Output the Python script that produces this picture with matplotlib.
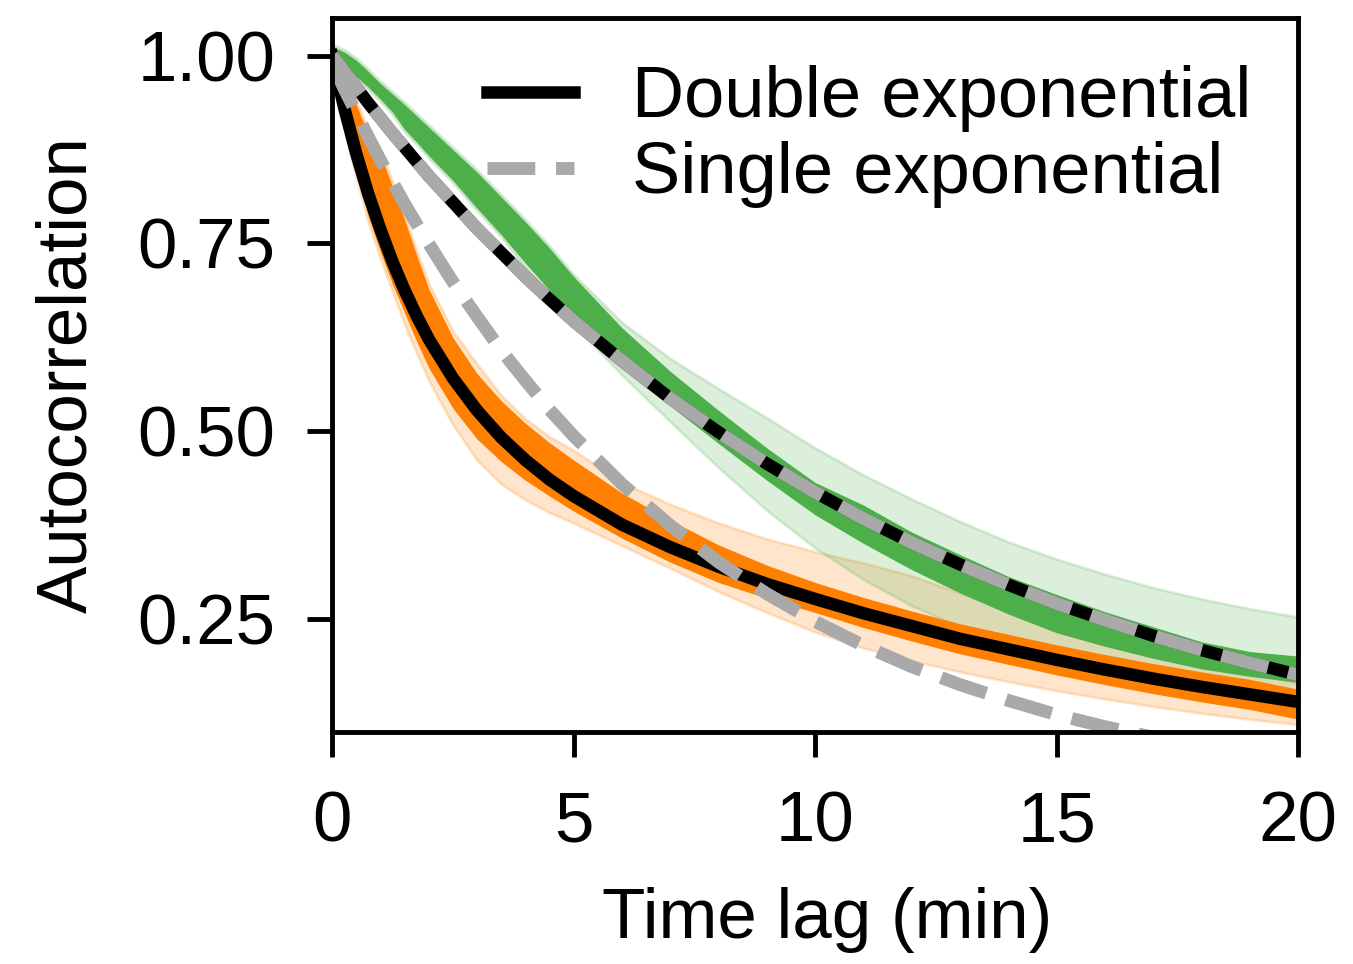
import numpy as np
import matplotlib
matplotlib.use("Agg")
import matplotlib.pyplot as plt

plt.rcParams['font.family'] = ['Liberation Sans', 'DejaVu Sans']

lag = [0, 0.25, 0.5, 0.75, 1, 1.25, 1.5, 1.75, 2, 2.5, 3, 3.5, 4, 4.5, 5,
       6, 7, 8, 9, 10, 11, 12, 13, 14, 15, 16, 17, 18, 19, 20]

# orange condition: mean +/- sem (solid band), +/- sd (light band), fits
orange_lo = [0.982, 0.911, 0.845, 0.786, 0.739, 0.696, 0.658, 0.620, 0.585, 0.531, 0.490, 0.460, 0.435, 0.414, 0.394,
             0.358, 0.326, 0.299, 0.278, 0.259, 0.239, 0.221, 0.204, 0.190, 0.176, 0.163, 0.151, 0.140, 0.130, 0.117]
orange_hi = [1.018, 0.971, 0.935, 0.896, 0.869, 0.826, 0.782, 0.735, 0.690, 0.625, 0.577, 0.541, 0.511, 0.485, 0.462,
             0.418, 0.382, 0.349, 0.322, 0.299, 0.279, 0.261, 0.244, 0.230, 0.216, 0.203, 0.191, 0.180, 0.170, 0.157]
orange_sd_lo = [0.982, 0.905, 0.838, 0.778, 0.730, 0.686, 0.643, 0.604, 0.568, 0.509, 0.462, 0.430, 0.409, 0.392, 0.378,
                0.348, 0.318, 0.287, 0.259, 0.233, 0.212, 0.195, 0.180, 0.167, 0.155, 0.144, 0.134, 0.125, 0.117, 0.110]
orange_sd_hi = [1.018, 0.975, 0.940, 0.902, 0.875, 0.832, 0.787, 0.741, 0.697, 0.634, 0.590, 0.548, 0.517, 0.493, 0.475,
                0.432, 0.403, 0.378, 0.357, 0.340, 0.325, 0.308, 0.285, 0.262, 0.242, 0.225, 0.210, 0.195, 0.180, 0.165]
orange_double = [1.000, 0.931, 0.870, 0.816, 0.769, 0.726, 0.688, 0.654, 0.623, 0.571, 0.528, 0.492, 0.462, 0.436, 0.414,
                 0.376, 0.346, 0.320, 0.297, 0.277, 0.258, 0.241, 0.224, 0.210, 0.196, 0.183, 0.171, 0.160, 0.150, 0.140]
orange_single = [0.990, 0.956, 0.924, 0.892, 0.861, 0.832, 0.803, 0.776, 0.750, 0.699, 0.653, 0.608, 0.568, 0.529, 0.494,
                 0.430, 0.375, 0.326, 0.284, 0.247, 0.215, 0.187, 0.163, 0.142, 0.123, 0.107, 0.093, 0.081, 0.071, 0.062]

# green condition
green_lo = [0.995, 0.990, 0.972, 0.958, 0.942, 0.925, 0.902, 0.885, 0.867, 0.834, 0.797, 0.762, 0.724, 0.688, 0.652,
            0.589, 0.534, 0.484, 0.435, 0.389, 0.351, 0.316, 0.285, 0.257, 0.232, 0.214, 0.198, 0.184, 0.174, 0.166]
green_hi = [1.012, 1.005, 0.994, 0.979, 0.963, 0.949, 0.935, 0.920, 0.905, 0.875, 0.845, 0.812, 0.779, 0.744, 0.706,
            0.638, 0.580, 0.528, 0.478, 0.432, 0.402, 0.366, 0.336, 0.307, 0.283, 0.260, 0.240, 0.220, 0.207, 0.201]
green_sd_lo = [0.992, 0.987, 0.969, 0.955, 0.939, 0.922, 0.899, 0.882, 0.864, 0.831, 0.794, 0.759, 0.718, 0.680, 0.643,
               0.575, 0.513, 0.452, 0.395, 0.345, 0.303, 0.268, 0.240, 0.215, 0.195, 0.177, 0.160, 0.145, 0.132, 0.120]
green_sd_hi = [1.015, 1.008, 0.997, 0.982, 0.966, 0.952, 0.938, 0.923, 0.908, 0.878, 0.848, 0.815, 0.782, 0.747, 0.709,
               0.645, 0.597, 0.557, 0.518, 0.478, 0.442, 0.410, 0.380, 0.353, 0.330, 0.310, 0.292, 0.277, 0.264, 0.253]
green_double = [1.000, 0.979, 0.958, 0.937, 0.917, 0.897, 0.878, 0.859, 0.840, 0.805, 0.770, 0.738, 0.706, 0.676, 0.647,
                0.594, 0.544, 0.499, 0.457, 0.419, 0.384, 0.352, 0.323, 0.296, 0.271, 0.249, 0.228, 0.209, 0.192, 0.176]
green_single = [1.000, 0.979, 0.958, 0.937, 0.917, 0.897, 0.878, 0.859, 0.840, 0.805, 0.770, 0.738, 0.706, 0.676, 0.647,
                0.594, 0.544, 0.499, 0.457, 0.419, 0.384, 0.352, 0.323, 0.296, 0.271, 0.249, 0.228, 0.209, 0.192, 0.176]

ORANGE = '#ff7f00'
GREEN = '#4daf4a'
GRAY = '#a9a9a9'
FS = 51

fig = plt.figure(figsize=(13.53, 9.64), dpi=100)
ax = fig.add_axes([0.2454, 0.2407, 0.714, 0.7406])

# light bands first
ax.fill_between(lag, orange_sd_lo, orange_sd_hi, color=ORANGE, alpha=0.2, lw=2)
ax.fill_between(lag, green_sd_lo, green_sd_hi, color=GREEN, alpha=0.2, lw=2)
# solid bands
ax.fill_between(lag, green_lo, green_hi, color=GREEN, lw=0)
ax.fill_between(lag, orange_lo, orange_hi, color=ORANGE, lw=0)

# fitted curves
ax.plot(lag, orange_double, color='black', lw=9, label='Double exponential')
ax.plot(lag, green_double, color='black', lw=9)
ax.plot(lag, orange_single, color=GRAY, lw=9.3, ls='--', label='Single exponential')
ax.plot(lag, green_single, color=GRAY, lw=9.3, ls='--')

ax.set_xlim(0, 20)
ax.set_ylim(0.1, 1.05)
ax.set_xticks([0, 5, 10, 15, 20])
ax.set_yticks([0.25, 0.5, 0.75, 1.0])
ax.set_yticklabels(['0.25', '0.50', '0.75', '1.00'])
ax.tick_params(labelsize=FS, length=18, width=3.5)
ax.tick_params(axis='x', pad=24)
ax.tick_params(axis='y', pad=23)
for s in ax.spines.values():
    s.set_linewidth(3.5)

ax.set_xlabel('Time lag (min)', fontsize=FS, labelpad=22)
ax.xaxis.label.set_x(0.512)
ax.set_ylabel('Autocorrelation', fontsize=FS, labelpad=26)

ax.legend(loc='upper right', frameon=False, fontsize=52, handlelength=1.2,
          handletextpad=0.8, labelspacing=0.13, borderaxespad=0.25)

fig.savefig('out.png', dpi=100)
